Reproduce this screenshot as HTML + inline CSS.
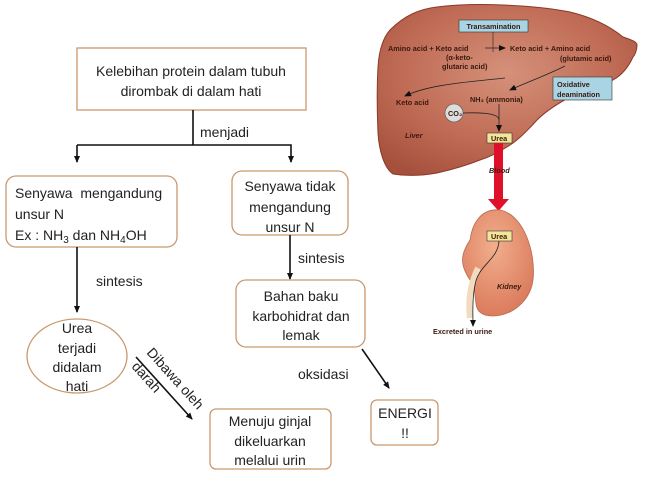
<!DOCTYPE html>
<html><head><meta charset="utf-8"><style>
html,body{margin:0;padding:0;background:#fff;}
svg{display:block;font-family:"Liberation Sans",sans-serif;}
.t{font-size:14px;fill:#222;}
.b{fill:#fff;stroke:#c8996e;stroke-width:1.3;}
.s{font-size:7.3px;font-weight:bold;fill:#3a1a10;}
</style></head><body>
<svg width="646" height="485" viewBox="0 0 646 485" xmlns="http://www.w3.org/2000/svg">
<defs>
<marker id="a" markerWidth="8" markerHeight="8" refX="6" refY="4" orient="auto" markerUnits="userSpaceOnUse"><path d="M0,1 L7,4 L0,7 z" fill="#111"/></marker>
<radialGradient id="lv" cx="0.5" cy="0.4" r="0.7"><stop offset="0" stop-color="#d5917a"/><stop offset="0.6" stop-color="#bf6a54"/><stop offset="1" stop-color="#a4503c"/></radialGradient>
<radialGradient id="kd" cx="0.45" cy="0.35" r="0.7"><stop offset="0" stop-color="#f2ae8c"/><stop offset="1" stop-color="#d9785a"/></radialGradient>
</defs>
<!-- liver -->
<path d="M390,30 C405,15 420,9 437,7 C460,4 480,4 503,5 C530,6 550,8 570,12 C595,18 612,28 623,37 C632,40 637,42 637,45 C637,50 635,55 633,57 C628,68 622,75 613,80 C595,88 582,92 570,97 C555,105 545,112 537,120 C528,130 520,138 513,143 C500,152 490,157 480,160 C465,166 450,170 437,173 C420,176 405,176 393,174 C384,168 379,150 378,133 C377,110 377,85 378,67 C379,50 383,38 390,30 Z" fill="url(#lv)" stroke="#8a3a28" stroke-width="1"/>
<rect x="459" y="20" width="69" height="12" fill="#a9d4e4" stroke="#333" stroke-width="0.6"/>
<text x="493.5" y="29" class="s" text-anchor="middle">Transamination</text>
<text x="388" y="51" class="s">Amino acid + Keto acid</text>
<text x="510" y="51" class="s">Keto acid + Amino acid</text>
<text x="446" y="60" class="s">(α-keto-</text>
<text x="442" y="69" class="s">glutaric acid)</text>
<text x="560" y="61" class="s">(glutamic acid)</text>
<line x1="485" y1="48" x2="505" y2="48" stroke="#222" stroke-width="0.8" marker-end="url(#a)"/>
<line x1="493" y1="32" x2="493" y2="52" stroke="#222" stroke-width="0.6"/>
<rect x="553" y="77" width="59" height="23" fill="#a9d4e4" stroke="#333" stroke-width="0.6"/>
<text x="557" y="87" class="s">Oxidative</text>
<text x="557" y="97" class="s">deamination</text>
<path d="M565,66 C545,76 525,83 510,90" fill="none" stroke="#222" stroke-width="0.8" marker-end="url(#a)"/>
<path d="M505,78 C470,82 430,84 405,96" fill="none" stroke="#222" stroke-width="0.8" marker-end="url(#a)"/>
<text x="396" y="105" class="s">Keto acid</text>
<text x="470" y="102" class="s">NH₃ (ammonia)</text>
<circle cx="454" cy="113" r="9" fill="#ddd" stroke="#555" stroke-width="0.6"/>
<text x="448" y="116" class="s">CO₂</text>
<path d="M463,113 C490,112 499,115 499,120" fill="none" stroke="#222" stroke-width="0.8"/>
<line x1="499" y1="104" x2="499" y2="131" stroke="#222" stroke-width="0.8" marker-end="url(#a)"/>
<text x="405" y="138" class="s" font-style="italic">Liver</text>
<rect x="487" y="133" width="25" height="10" fill="#f3e69a" stroke="#333" stroke-width="0.6"/>
<text x="491" y="141" class="s">Urea</text>
<rect x="494" y="143" width="9" height="57" fill="#e0102a"/>
<path d="M488,199 L509,199 L498.5,211 Z" fill="#e0102a"/>
<text x="489" y="173" class="s" font-style="italic" fill="#445">Blood</text>
<!-- kidney -->
<path d="M470,240 C460,255 460,265 470,280 C480,295 470,310 485,315 C505,320 530,305 533,280 C536,255 525,215 500,210 C480,208 472,225 470,240 Z" fill="url(#kd)" stroke="#b86a50" stroke-width="0.8"/>
<path d="M478,268 C470,285 468,300 470,318" fill="none" stroke="#f1dcc0" stroke-width="6"/>
<rect x="487" y="231" width="25" height="10" fill="#f3e69a" stroke="#333" stroke-width="0.6"/>
<text x="491" y="239" class="s">Urea</text>
<path d="M499,241 C498,260 478,265 475,285 C472,300 473,315 473,326" fill="none" stroke="#222" stroke-width="0.8" marker-end="url(#a)"/>
<text x="497" y="289" class="s" font-style="italic">Kidney</text>
<text x="433" y="334" class="s" fill="#333">Excreted in urine</text>

<!-- flowchart -->
<rect x="77" y="48" width="229" height="62" class="b"/>
<text x="191" y="76" class="t" text-anchor="middle">Kelebihan protein dalam tubuh</text>
<text x="191" y="96" class="t" text-anchor="middle">dirombak di dalam hati</text>
<line x1="193" y1="110" x2="193" y2="145" stroke="#111" stroke-width="1.6"/>
<text x="200" y="137" class="t">menjadi</text>
<polyline points="77,145 291,145 291,162" fill="none" stroke="#111" stroke-width="1.6" marker-end="url(#a)"/>
<line x1="77" y1="145" x2="77" y2="162" stroke="#111" stroke-width="1.6" marker-end="url(#a)"/>

<rect x="6" y="176" width="171" height="71" rx="10" class="b"/>
<text x="15" y="198" class="t">Senyawa&#160; mengandung</text>
<text x="15" y="219" class="t">unsur N</text>
<text x="15" y="240" class="t">Ex : NH<tspan font-size="10" dy="3">3</tspan><tspan dy="-3"> dan NH</tspan><tspan font-size="10" dy="3">4</tspan><tspan dy="-3">OH</tspan></text>

<rect x="232" y="171" width="116" height="64" rx="10" class="b"/>
<text x="290" y="191" class="t" text-anchor="middle">Senyawa tidak</text>
<text x="290" y="212" class="t" text-anchor="middle">mengandung</text>
<text x="290" y="232" class="t" text-anchor="middle">unsur N</text>

<line x1="290" y1="235" x2="290" y2="279" stroke="#111" stroke-width="1.6" marker-end="url(#a)"/>
<text x="298" y="263" class="t">sintesis</text>
<line x1="77" y1="247" x2="77" y2="312" stroke="#111" stroke-width="1.6" marker-end="url(#a)"/>
<text x="96" y="286" class="t">sintesis</text>

<ellipse cx="77" cy="356" rx="50" ry="37" class="b"/>
<text x="77" y="333" class="t" text-anchor="middle">Urea</text>
<text x="77" y="353" class="t" text-anchor="middle">terjadi</text>
<text x="77" y="372" class="t" text-anchor="middle">didalam</text>
<text x="77" y="391" class="t" text-anchor="middle">hati</text>

<rect x="236" y="280" width="129" height="67" rx="10" class="b"/>
<text x="301" y="301" class="t" text-anchor="middle">Bahan baku</text>
<text x="301" y="321" class="t" text-anchor="middle">karbohidrat dan</text>
<text x="301" y="340" class="t" text-anchor="middle">lemak</text>

<line x1="362" y1="349" x2="389" y2="388" stroke="#111" stroke-width="1.6" marker-end="url(#a)"/>
<text x="298" y="379" class="t">oksidasi</text>

<rect x="371" y="400" width="67" height="45" rx="6" class="b"/>
<text x="405" y="418" class="t" text-anchor="middle">ENERGI</text>
<text x="405" y="438" class="t" text-anchor="middle">!!</text>

<rect x="210" y="409" width="121" height="60" rx="6" class="b"/>
<text x="270" y="426" class="t" text-anchor="middle">Menuju ginjal</text>
<text x="270" y="446" class="t" text-anchor="middle">dikeluarkan</text>
<text x="270" y="465" class="t" text-anchor="middle">melalui urin</text>

<line x1="136" y1="357" x2="192" y2="419" stroke="#111" stroke-width="1.6" marker-end="url(#a)"/>
<text transform="translate(146,353) rotate(48)" class="t">Dibawa oleh</text>
<text transform="translate(131,367) rotate(48)" class="t">darah</text>
</svg>
</body></html>
